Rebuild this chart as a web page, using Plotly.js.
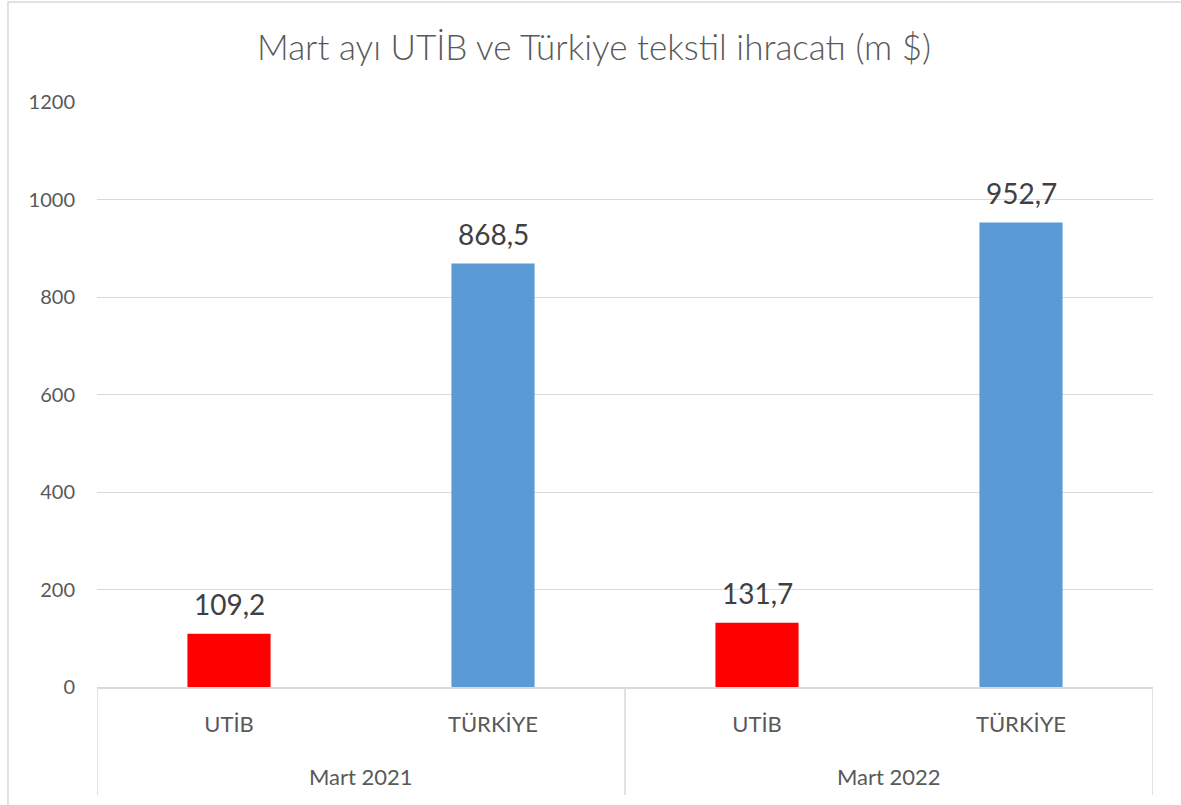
<!DOCTYPE html>
<html><head><meta charset="utf-8">
<script src="https://cdn.plot.ly/plotly-3.0.1.min.js"></script>
<style>html,body{margin:0;padding:0;background:#fff}#chart{width:1181px;height:805px}</style>
</head><body><div id="chart"></div>
<script>
const groups = ["Mart 2021", "Mart 2021", "Mart 2022", "Mart 2022"];
const categories = ["UTİB", "TÜRKİYE", "UTİB", "TÜRKİYE"];
const values = [109.2, 868.5, 131.7, 952.7];
const yTicks = [0, 200, 400, 600, 800, 1000, 1200];
const colorByCategory = {"UTİB": "#FF0000", "TÜRKİYE": "#5B9BD5"};

const font = "Lato, 'Open Sans', sans-serif";
const keys = categories.map((c, i) => groups[i] + " | " + c);

// group spans (in category-index units) derived from the data
const groupNames = [...new Set(groups)];
const groupSpans = groupNames.map(g => {
  const idx = groups.map((v, i) => v === g ? i : -1).filter(i => i >= 0);
  return {name: g, first: Math.min(...idx), last: Math.max(...idx)};
});

const trace = {
  type: "bar",
  x: keys,
  y: values,
  width: 0.315,
  marker: {color: categories.map(c => colorByCategory[c]), line: {width: 0}},
  cliponaxis: false,
  hoverinfo: "none"
};

const divY = -(795 - 687) / 585;
const dividerXs = [groupSpans[0].first - 0.5, ...groupSpans.map(s => s.last + 0.5)];
const shapes = [
  {type: "rect", xref: "paper", yref: "paper", x0: -0.0843, x1: 1.0295, y0: -0.22, y1: 1.171,
   line: {color: "#d9d9d9", width: 1.5}, layer: "below"}
].concat(dividerXs.map(x => ({type: "line", xref: "x", yref: "paper", x0: x, x1: x, y0: 0, y1: divY,
   line: {color: "#d9d9d9", width: 1.5}})));

const groupAnnotations = groupSpans.map(s => ({
  xref: "x", yref: "paper", x: (s.first + s.last) / 2, y: -(776 - 687) / 585,
  text: s.name, showarrow: false, xanchor: "center", yanchor: "middle",
  font: {family: font, size: 22, color: "#595959"}
}));
const valueAnnotations = values.map((v, i) => ({
  xref: "x", yref: "y", x: keys[i], y: v,
  text: v.toFixed(1).replace(".", ","), showarrow: false, xanchor: "center", yanchor: "bottom", yshift: 11,
  font: {family: font, size: 28, color: "#404040"}
}));

const layout = {
  width: 1181, height: 805,
  margin: {l: 97, r: 28, t: 102, b: 118},
  paper_bgcolor: "#fff", plot_bgcolor: "#fff",
  title: {text: "Mart ayı UTİB ve Türkiye tekstil ihracatı (m $)", x: 0.503, xanchor: "center", y: 0.941, yanchor: "middle",
          font: {family: font, size: 35, color: "#595959", weight: 300}},
  showlegend: false,
  xaxis: {type: "category", tickvals: keys, ticktext: categories, range: [-0.5, keys.length - 0.5],
          showgrid: false, showline: true, linecolor: "#d9d9d9", linewidth: 1.5,
          tickfont: {family: font, size: 22, color: "#595959"}, ticks: "", ticklabelstandoff: 17},
  yaxis: {range: [0, 1200], tickvals: yTicks, ticktext: yTicks.map(String), showgrid: true, gridcolor: "#d9d9d9", gridwidth: 1,
          zeroline: false, showline: false, tickfont: {family: font, size: 20, color: "#595959"}, ticklabelstandoff: 21},
  shapes: shapes,
  annotations: groupAnnotations.concat(valueAnnotations)
};
Plotly.newPlot("chart", [trace], layout, {displayModeBar: false, staticPlot: true});
</script></body></html>
